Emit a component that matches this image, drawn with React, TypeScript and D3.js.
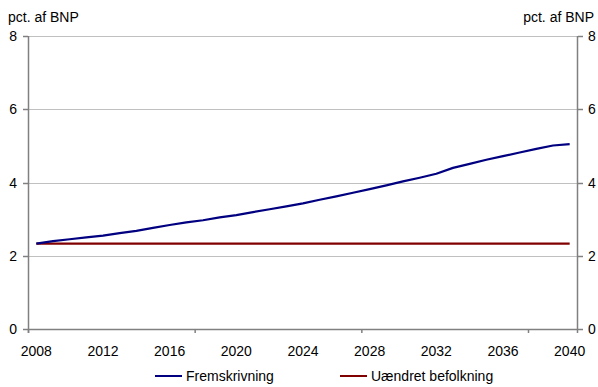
import React from "react";
import * as d3 from "d3";

// Years on the category axis
const years: number[] = d3.range(2008, 2041);
// Projection (pct. af BNP)
const fremskrivning: number[] = [
  2.33, 2.4, 2.45, 2.5, 2.55, 2.62, 2.68, 2.76, 2.84, 2.91, 2.97, 3.05, 3.11,
  3.19, 3.27, 3.35, 3.43, 3.53, 3.62, 3.72, 3.82, 3.92, 4.03, 4.13, 4.24, 4.4,
  4.51, 4.62, 4.72, 4.82, 4.92, 5.01, 5.05,
];
// Unchanged population scenario
const uaendret: number[] = years.map(() => 2.33);
const yTicks: number[] = [0, 2, 4, 6, 8];
const xLabelYears: number[] = [2008, 2012, 2016, 2020, 2024, 2028, 2032, 2036, 2040];
const seriesNames: string[] = ["Fremskrivning", "Uændret befolkning"];

const W = 598;
const H = 387;
const left = 28;
const right = 578;
const top = 36;
const bottom = 329;
const font = "'Liberation Sans', Arial, sans-serif";
const axisColor = "#808080";

export default function App() {
  const band = d3
    .scaleBand<number>()
    .domain(years)
    .range([left, right])
    .paddingInner(0)
    .paddingOuter(0);
  const xc = (yr: number) => (band(yr) as number) + band.bandwidth() / 2;
  const y = d3.scaleLinear().domain([0, 8]).range([bottom, top]);

  const line = d3
    .line<number>()
    .x((_, i) => xc(years[i]))
    .y((d) => y(d));

  // major tick marks every 10 categories on the x axis
  const xTickPos: number[] = d3
    .range(0, years.length + 1, 10)
    .map((i) => left + i * band.bandwidth());

  const legend = [
    { name: seriesNames[0], color: "#000080", x0: 155 },
    { name: seriesNames[1], color: "#800000", x0: 340 },
  ];

  return (
    <div style={{ position: "fixed", left: 0, top: 0 }}>
      <svg width={W} height={H} style={{ display: "block", background: "#fff" }}>
        <g fontFamily={font} fontSize={14} fill="#000">
          {/* gridlines */}
          {yTicks.slice(1).map((t) => (
            <line
              key={"g" + t}
              x1={left}
              x2={right}
              y1={Math.round(y(t)) + 0.5}
              y2={Math.round(y(t)) + 0.5}
              stroke="#c0c0c0"
              strokeWidth={1}
            />
          ))}
          {/* axes */}
          <line x1={left + 0.5} x2={left + 0.5} y1={top} y2={bottom + 4} stroke={axisColor} strokeWidth={1.5} />
          <line x1={right - 0.5} x2={right - 0.5} y1={top} y2={bottom + 4} stroke={axisColor} strokeWidth={1.5} />
          <line x1={left} x2={right} y1={bottom + 0.5} y2={bottom + 0.5} stroke={axisColor} strokeWidth={1.5} />
          {xTickPos.map((p, i) => (
            <line key={"xt" + i} x1={p + 0.5} x2={p + 0.5} y1={bottom} y2={bottom + 4} stroke={axisColor} strokeWidth={1.5} />
          ))}
          {yTicks.map((t) => (
            <g key={"yt" + t}>
              <line x1={left - 5} x2={left} y1={Math.round(y(t)) + 0.5} y2={Math.round(y(t)) + 0.5} stroke={axisColor} strokeWidth={1.5} />
              <line x1={right} x2={right + 5} y1={Math.round(y(t)) + 0.5} y2={Math.round(y(t)) + 0.5} stroke={axisColor} strokeWidth={1.5} />
              <text x={17} y={y(t) + 5} textAnchor="end">{t}</text>
              <text x={588} y={y(t) + 5} textAnchor="start">{t}</text>
            </g>
          ))}
          {/* x labels */}
          {xLabelYears.map((yr) => (
            <text key={"xl" + yr} x={xc(yr)} y={356} textAnchor="middle">{yr}</text>
          ))}
          {/* unit labels */}
          <text x={8} y={22}>pct. af BNP</text>
          <text x={594} y={22} textAnchor="end">pct. af BNP</text>
          {/* series */}
          <path d={line(uaendret) as string} fill="none" stroke="#800000" strokeWidth={2.2} />
          <path d={line(fremskrivning) as string} fill="none" stroke="#000080" strokeWidth={2.2} strokeLinejoin="round" />
          {/* legend */}
          {legend.map((l) => (
            <g key={l.name}>
              <line x1={l.x0} x2={l.x0 + 27} y1={376} y2={376} stroke={l.color} strokeWidth={2} />
              <text x={l.x0 + 31} y={381}>{l.name}</text>
            </g>
          ))}
        </g>
      </svg>
    </div>
  );
}
